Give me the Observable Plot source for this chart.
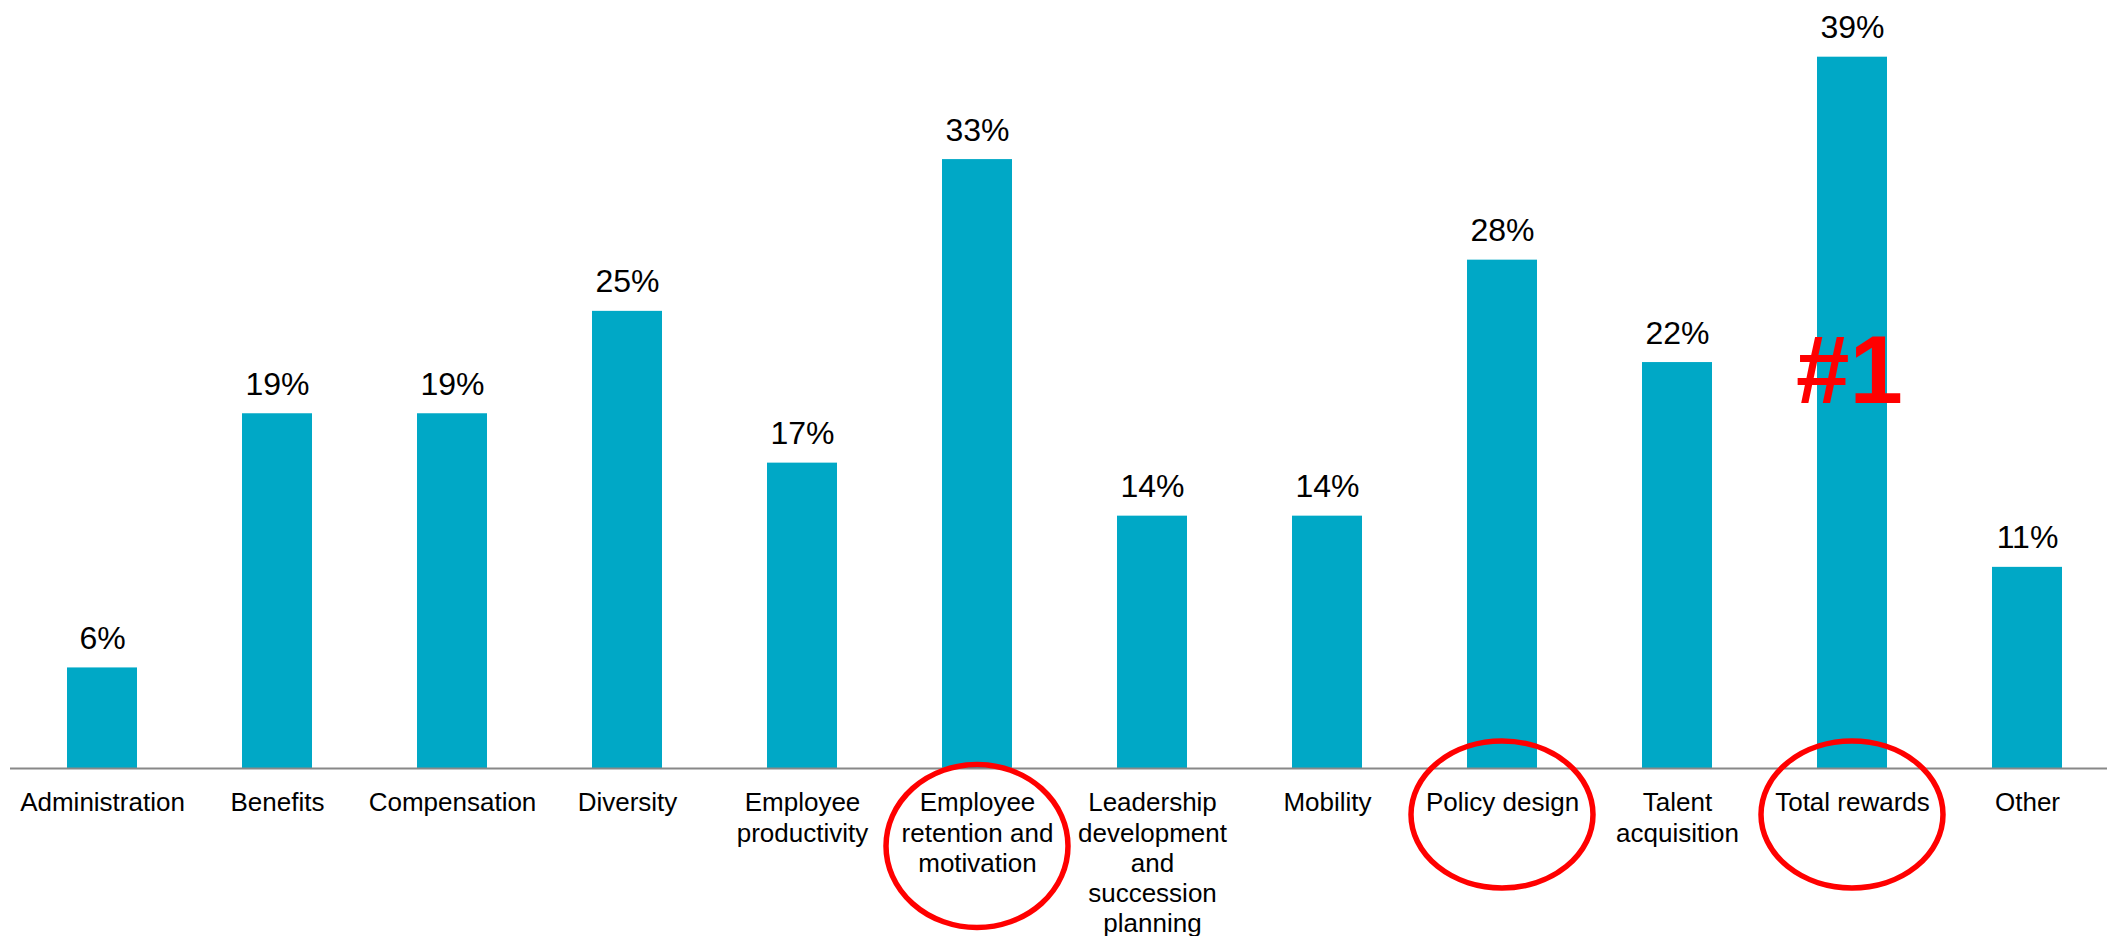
<!DOCTYPE html>
<html>
<head>
<meta charset="utf-8">
<script src="https://cdn.jsdelivr.net/npm/d3@7"></script>
<script src="https://cdn.jsdelivr.net/npm/@observablehq/plot@0.6"></script>
<style>
  html, body { margin: 0; padding: 0; background: #fff; overflow: hidden; }
  #chart svg { display: block; }
</style>
</head>
<body>
<div id="chart"></div>
<script>
// Categories (x axis)
const categories = [
  "Administration", "Benefits", "Compensation", "Diversity",
  "Employee productivity", "Employee retention and motivation",
  "Leadership development and succession planning", "Mobility",
  "Policy design", "Talent acquisition", "Total rewards", "Other"
];
// Tick labels as wrapped in the reference
const tickLabels = [
  "Administration", "Benefits", "Compensation", "Diversity",
  "Employee\nproductivity", "Employee\nretention and\nmotivation",
  "Leadership\ndevelopment\nand\nsuccession\nplanning", "Mobility",
  "Policy design", "Talent\nacquisition", "Total rewards", "Other"
];
// Bar values (share of respondents, %)
const values = [5.5, 19.4, 19.4, 25.0, 16.7, 33.3, 13.8, 13.8, 27.8, 22.2, 38.9, 11.0];
// Printed value labels
const valueLabels = ["6%", "19%", "19%", "25%", "17%", "33%", "14%", "14%", "28%", "22%", "39%", "11%"];
// Highlighted (circled) categories
const circled = ["Employee retention and motivation", "Policy design", "Total rewards"];
// "#1" annotation
const rankNote = [{category: "Total rewards", y: 20, text: "#1"}];

const data = categories.map((c, i) => ({category: c, value: values[i], label: valueLabels[i]}));
const tickMap = new Map(categories.map((c, i) => [c, tickLabels[i]]));

function ellipseMark(index, scales, values, dimensions) {
  const sx = scales.x, sy = scales.y;
  const bw = typeof sx.bandwidth === "function" ? sx.bandwidth() : 0;
  const y0 = sy(0);
  const g = d3.create("svg:g");
  for (const c of circled) {
    const lines = tickMap.get(c).split("\n").length;
    const cx = sx(c) + bw / 2;
    const ry = lines > 1 ? 81.5 : 73.5;
    const cy = lines > 1 ? y0 + 78 : y0 + 46.5;
    g.append("ellipse")
      .attr("cx", cx).attr("cy", cy)
      .attr("rx", 91).attr("ry", ry)
      .attr("fill", "none")
      .attr("stroke", "#ff0000")
      .attr("stroke-width", 5.5);
  }
  return g.node();
}

const chart = Plot.plot({
  width: 2107,
  height: 936,
  marginTop: 0,
  marginBottom: 168,
  marginLeft: 10,
  marginRight: 0,
  style: {fontFamily: "'Liberation Sans', Arial, sans-serif", fontSize: "26px", background: "#fff", color: "#000"},
  x: {type: "band", domain: categories, range: [11.2, 2118.4], paddingInner: 0.6, paddingOuter: 0.3, align: 0.5, axis: null},
  y: {domain: [0, 42], range: [768, 0], axis: null},
  marks: [
    Plot.barY(data, {x: "category", y: "value", fill: "#00a8c6"}),
    Plot.ruleY([0], {stroke: "#888888", strokeWidth: 2}),
    Plot.text(data, {x: "category", y: "value", text: "label", lineAnchor: "bottom", dy: -19, fontSize: 32, fill: "#000"}),
    Plot.axisX({tickSize: 0, tickPadding: 21.5, tickFormat: d => tickMap.get(d), fontSize: 26, lineHeight: 1.16, fill: "#000", label: null}),
    Plot.text(rankNote, {x: "category", y: "y", text: "text", lineAnchor: "bottom", dx: -3, fontSize: 96, fontWeight: "bold", fill: "#ff0000"}),
    ellipseMark
  ]
});
document.getElementById("chart").appendChild(chart);
</script>
</body>
</html>
